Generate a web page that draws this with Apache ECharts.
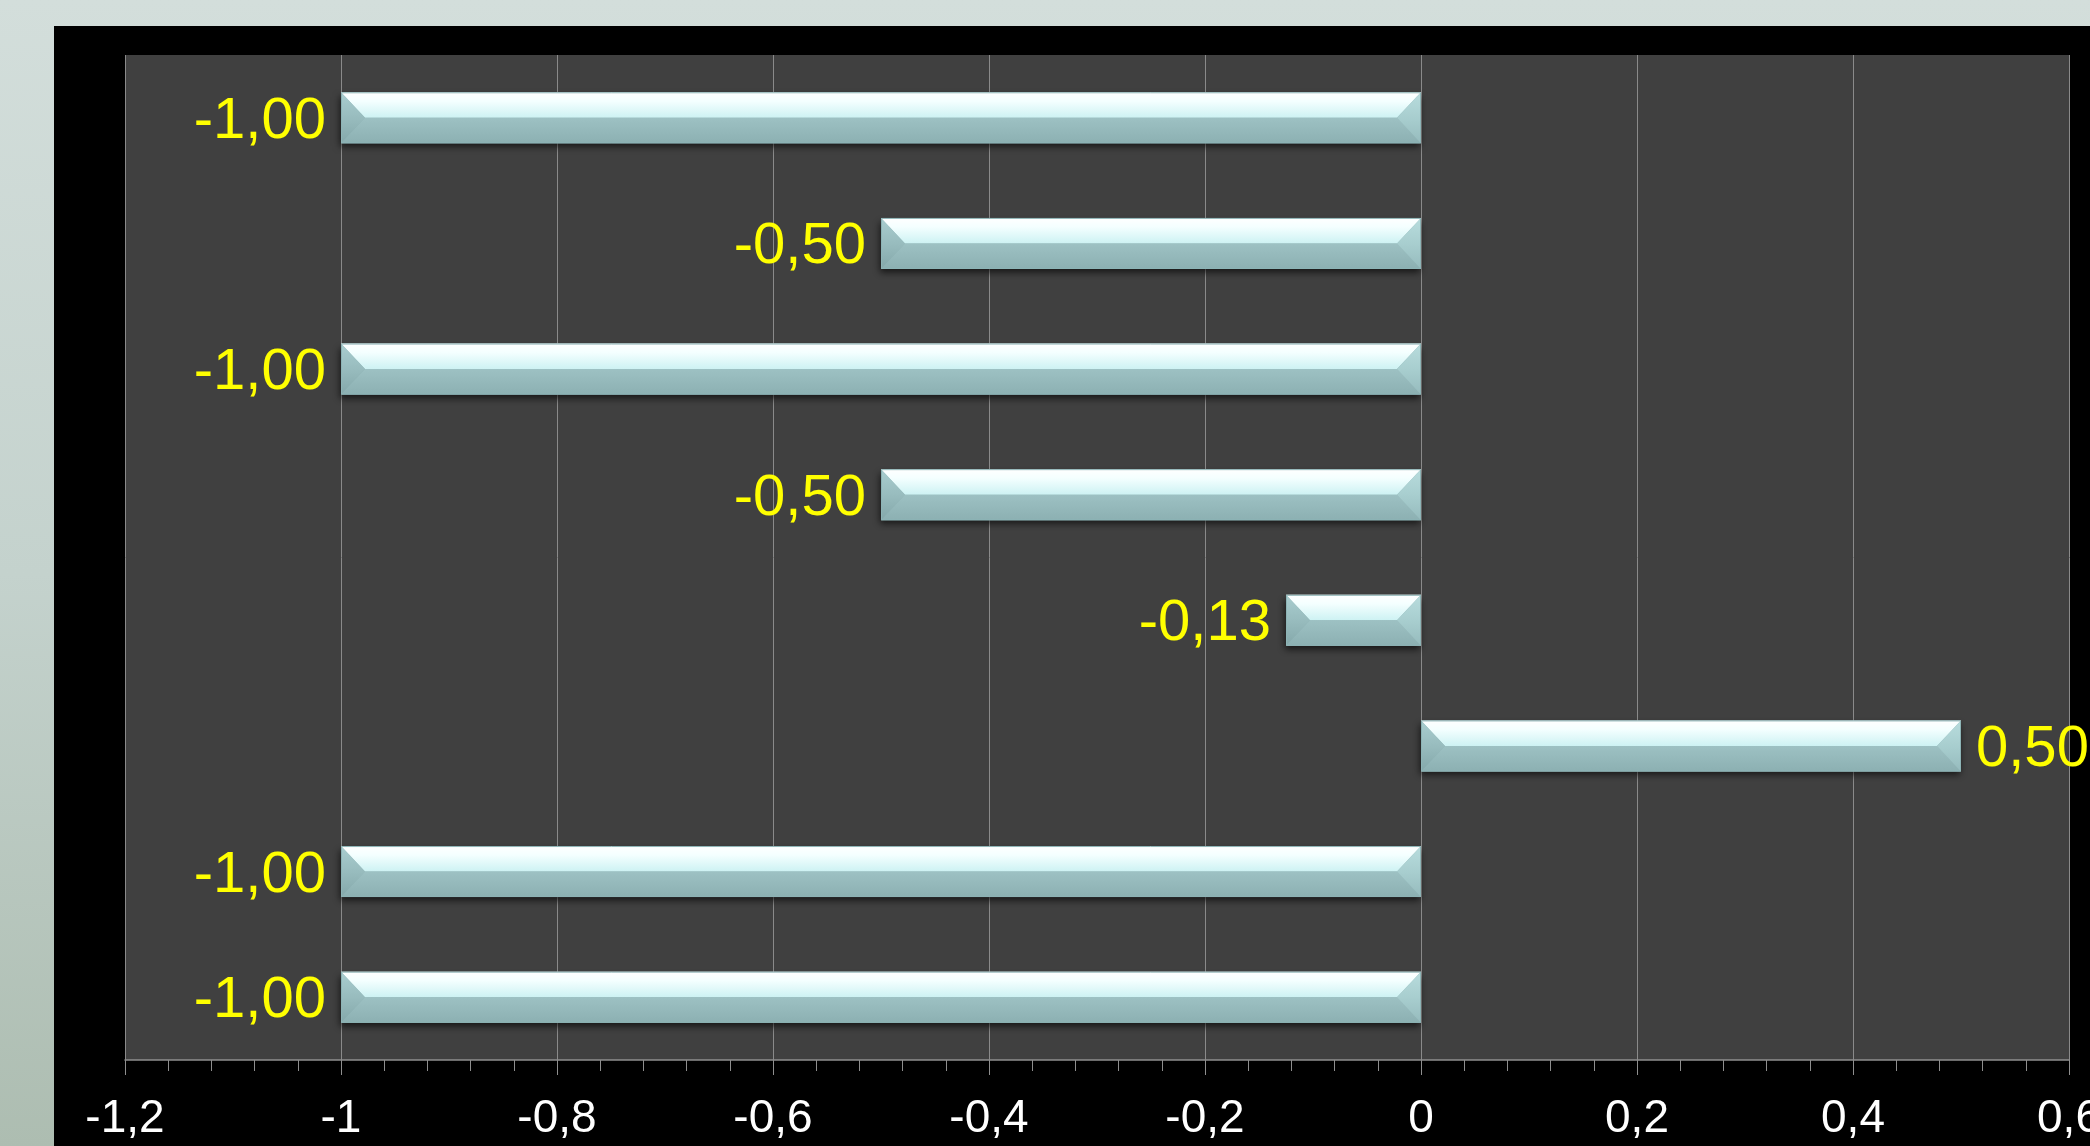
<!DOCTYPE html>
<html>
<head>
<meta charset="utf-8">
<script src="https://cdn.jsdelivr.net/npm/echarts@6/dist/echarts.min.js"></script>
<style>
  html, body { margin: 0; padding: 0; }
  #wrap { position: relative; width: 2090px; height: 1146px; overflow: hidden;
          background: linear-gradient(to bottom, #d3dedb 0%, #c4d2cd 50%, #adbdb1 100%); }
  #panel { position: absolute; left: 54px; top: 26px; right: 0; bottom: 0; background: #000; }
  #chart { position: absolute; left: 0; top: 0; width: 2090px; height: 1146px; }
</style>
</head>
<body>
<div id="wrap">
  <div id="panel"></div>
  <div id="chart"></div>
</div>
<script>
// ---- data ----
const categories = ['1', '2', '3', '4', '5', '6', '7', '8'];
const values = [-1.00, -0.50, -1.00, -0.50, -0.125, 0.50, -1.00, -1.00];
const axisMin = -1.2;
const axisMax = 0.6;
const axisStep = 0.2;

function fmt(v, d) { return v.toFixed(d).replace('.', ','); }

const chart = echarts.init(document.getElementById('chart'), null, { renderer: 'canvas' });

const G = echarts.graphic.LinearGradient;
const topFace = new G(0, 0, 0, 1, [
  { offset: 0, color: '#ffffff' },
  { offset: 0.35, color: '#f4ffff' },
  { offset: 1, color: '#cdf2f3' }
]);
const botFace = new G(0, 0, 0, 1, [
  { offset: 0, color: '#9dc1c3' },
  { offset: 1, color: '#8cb0b2' }
]);
const leftEnd = new G(0, 0, 0, 1, [
  { offset: 0, color: '#a9cdcf' },
  { offset: 0.5, color: '#98bcbe' },
  { offset: 1, color: '#84a8aa' }
]);
const rightEnd = new G(0, 0, 0, 1, [
  { offset: 0, color: '#b8dcdd' },
  { offset: 0.5, color: '#a8cecf' },
  { offset: 1, color: '#96bbbd' }
]);

function renderBar(params, api) {
  const v = api.value(0);
  const idx = api.value(1);
  const p0 = api.coord([0, idx]);
  const p1 = api.coord([v, idx]);
  const band = api.size([0, 1])[1];
  const h = band * 0.406;
  const xl = Math.min(p0[0], p1[0]);
  const xr = Math.max(p0[0], p1[0]);
  const ym = p0[1];
  const yt = ym - h / 2;
  const yb = ym + h / 2;
  const b = Math.min(24, (xr - xl) / 2);
  const labelX = v < 0 ? xl - 15 : xr + 15;
  return {
    type: 'group',
    children: [
      { type: 'rect', shape: { x: xl, y: yt, width: xr - xl, height: h },
        style: { fill: '#8fb3b5', shadowBlur: 7, shadowOffsetY: 4, shadowOffsetX: -1, shadowColor: 'rgba(0,0,0,0.65)' } },
      { type: 'polygon', shape: { points: [[xl, yt], [xr, yt], [xr - b, ym], [xl + b, ym]] },
        style: { fill: topFace } },
      { type: 'polygon', shape: { points: [[xl + b, ym], [xr - b, ym], [xr, yb], [xl, yb]] },
        style: { fill: botFace } },
      { type: 'polygon', shape: { points: [[xl, yt], [xl + b, ym], [xl, yb]] },
        style: { fill: leftEnd } },
      { type: 'polygon', shape: { points: [[xr, yt], [xr - b, ym], [xr, yb]] },
        style: { fill: rightEnd } },
      { type: 'rect', shape: { x: xl + 0.5, y: yt + 0.5, width: xr - xl - 1, height: h - 1 },
        style: { fill: null, stroke: '#8db4b6', lineWidth: 1 } },
      { type: 'text', x: labelX, y: ym + 4,
        style: { text: fmt(values[idx], 2), fill: '#ffff00', font: '58px "Liberation Sans", Arial, sans-serif',
                 align: v < 0 ? 'right' : 'left', verticalAlign: 'middle' } }
    ]
  };
}

const tickColor = '#8e8e8e';

chart.setOption({
  animation: false,
  backgroundColor: 'transparent',
  grid: { left: 125, right: 21, top: 55, bottom: 86, show: true, backgroundColor: '#404040', borderWidth: 0,
          containLabel: false, outerBoundsMode: 'none' },
  xAxis: [
    {
      type: 'value', min: axisMin, max: axisMax, interval: axisStep, position: 'bottom',
      axisLine: { show: true, onZero: false, lineStyle: { color: tickColor, width: 1.5 } },
      axisTick: { show: true, length: 15, lineStyle: { color: tickColor, width: 1 } },
      minorTick: { show: true, splitNumber: 5, length: 11, lineStyle: { color: tickColor, width: 1 } },
      splitLine: { show: true, showMinLine: true, showMaxLine: true, lineStyle: { color: '#8a8a8a', width: 1 } },
      axisLabel: { color: '#ffffff', fontSize: 46, fontFamily: '"Liberation Sans", Arial, sans-serif', margin: 36,
                   hideOverlap: false,
                   formatter: v => fmt(Math.round(v * 10) / 10, Number.isInteger(Math.round(v * 10) / 10) ? 0 : 1) }
    },
    {
      type: 'value', min: axisMin, max: axisMax, interval: axisStep, position: 'bottom',
      axisLine: { show: false },
      axisTick: { show: false },
      minorTick: { show: true, splitNumber: 5, length: 10, lineStyle: { color: tickColor, width: 1 } },
      splitLine: { show: false },
      axisLabel: { show: false }
    }
  ],
  yAxis: {
    type: 'category', data: categories, inverse: true,
    axisLine: { show: false }, axisTick: { show: false }, axisLabel: { show: false }, splitLine: { show: false }
  },
  series: [{
    type: 'custom',
    xAxisIndex: 0,
    renderItem: renderBar,
    clip: false,
    encode: { x: 0, y: 1 },
    data: values.map((v, i) => [v, i])
  }]
});
</script>
</body>
</html>
